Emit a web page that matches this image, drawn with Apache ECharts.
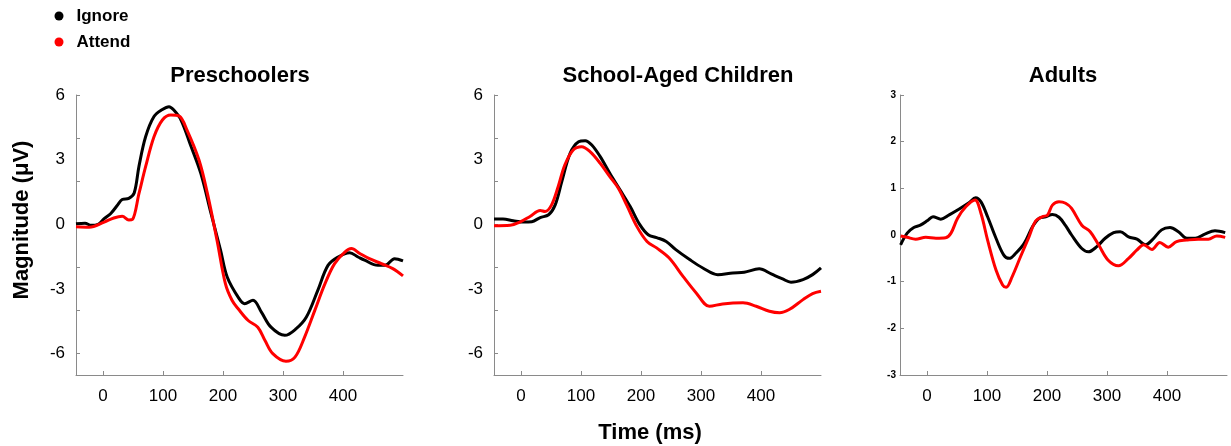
<!DOCTYPE html>
<html>
<head>
<meta charset="utf-8">
<script src="https://cdn.jsdelivr.net/npm/echarts@6/dist/echarts.min.js"></script>
<style>html,body{margin:0;padding:0;background:#fff}#c{width:1231px;height:446px}</style>
</head>
<body>
<div id="c"></div>
<script>
// ---- data ----
const panelTitles = ['Preschoolers', 'School-Aged Children', 'Adults'];
const seriesNames = ['Ignore', 'Attend'];
const xTickValues = [0, 100, 200, 300, 400];
const yTickLabelsChild = [-6, -3, 0, 3, 6];
const yTickMarksChild = [-6, -4, -2, 0, 2, 4, 6];
const yTicksAdult = [-3, -2, -1, 0, 1, 2, 3];

const preIgnoreT = [-45,-30,-20,-8,2,13,24,32,43,52,60,71,85,99,110,118,130,146,163,180,196,207,226,236,250,264,280,303,322,339,358,375,392,411,425,436,458,470,486,500];
const preIgnoreV = [0.02,0.05,-0.05,0.0,0.26,0.5,0.88,1.15,1.2,1.45,2.7,4.06,5.0,5.33,5.46,5.3,4.84,3.67,2.36,0.5,-1.21,-2.45,-3.42,-3.69,-3.53,-4.08,-4.78,-5.16,-4.85,-4.31,-3.07,-1.91,-1.52,-1.32,-1.52,-1.67,-1.91,-1.91,-1.6,-1.7];
const preAttendT = [-45,-23,2,18,32,43,49,60,71,85,99,113,127,140,160,174,190,204,215,226,242,258,270,283,305,320,336,353,370,386,403,414,428,444,464,483,500];
const preAttendV = [-0.12,-0.14,0.1,0.29,0.37,0.2,0.22,1.43,2.67,4.06,4.84,5.07,5.02,4.37,2.98,1.43,-0.74,-2.76,-3.53,-3.95,-4.47,-4.78,-5.4,-6.01,-6.36,-6.17,-5.24,-4.0,-2.76,-1.83,-1.29,-1.13,-1.36,-1.6,-1.83,-2.06,-2.4];

const schIgnoreT = [-45,-30,-13,4,18,32,46,57,68,82,96,107,118,132,148,165,182,198,212,226,242,258,281,303,328,353,372,397,417,436,450,470,486,500];
const schIgnoreV = [0.24,0.24,0.16,0.1,0.12,0.31,0.44,0.9,1.98,3.3,3.83,3.88,3.68,3.14,2.37,1.6,0.82,-0.02,-0.49,-0.62,-0.8,-1.18,-1.64,-2.03,-2.34,-2.26,-2.23,-2.07,-2.31,-2.54,-2.69,-2.57,-2.34,-2.03];
const schAttendT = [-45,-18,-2,15,32,40,51,62,73,87,101,115,132,148,162,176,193,210,226,247,270,292,314,336,370,392,414,431,447,470,486,500];
const schAttendV = [-0.07,-0.05,0.1,0.36,0.64,0.59,0.9,1.75,2.75,3.45,3.6,3.37,2.83,2.21,1.68,0.9,-0.1,-0.8,-1.1,-1.57,-2.42,-3.19,-3.81,-3.7,-3.65,-3.81,-4.04,-4.11,-3.96,-3.5,-3.22,-3.11];

const adIgnoreT = [-44,-33,-22,-11,1,10,23,37,53,70,81,90,101,115,128,137,148,162,176,187,198,209,220,231,241,258,269,283,297,311,322,336,350,364,375,391,405,419,433,447,463,480,497];
const adIgnoreV = [-0.21,0.04,0.16,0.21,0.31,0.39,0.34,0.43,0.55,0.69,0.8,0.71,0.39,-0.07,-0.43,-0.5,-0.39,-0.18,0.18,0.36,0.39,0.44,0.38,0.2,0.0,-0.29,-0.36,-0.25,-0.07,0.05,0.07,-0.04,-0.09,-0.21,-0.11,0.11,0.16,0.07,-0.07,-0.07,0.02,0.09,0.05];
const adAttendT = [-44,-33,-19,-2,15,31,40,51,65,80,90,101,115,126,132,142,156,170,181,192,201,209,220,231,241,258,272,286,302,319,336,350,361,375,388,402,416,433,452,469,483,497];
const adAttendV = [-0.02,-0.05,-0.09,-0.05,-0.07,-0.06,0.04,0.36,0.61,0.75,0.46,-0.11,-0.75,-1.07,-1.12,-0.89,-0.46,-0.04,0.3,0.39,0.43,0.64,0.71,0.68,0.57,0.21,0.07,-0.21,-0.54,-0.66,-0.5,-0.32,-0.21,-0.31,-0.16,-0.26,-0.14,-0.11,-0.09,-0.09,-0.02,-0.05];

// ---- build ----
const FONT = 'Liberation Sans, Arial, Helvetica, sans-serif';
const zip = (t, v) => t.map((x, i) => [x, v[i]]);
const panels = [
  [zip(preIgnoreT, preIgnoreV), zip(preAttendT, preAttendV)],
  [zip(schIgnoreT, schIgnoreV), zip(schAttendT, schAttendV)],
  [zip(adIgnoreT, adIgnoreV), zip(adAttendT, adAttendV)]
];
const colors = ['#000000', '#ff0000'];
const gridLefts = [76, 494, 900];
const titleCenters = [240, 678, 1063];
const axisLineStyle = { color: '#8a8a8a', width: 1 };

const grids = gridLefts.map(l => ({ left: l, top: 95, width: 327, height: 280 }));
const xAxes = gridLefts.map((l, i) => ({
  type: 'value', gridIndex: i, min: -45, max: 500,
  splitLine: { show: false },
  axisLine: { show: true, onZero: false, lineStyle: axisLineStyle },
  axisTick: { show: true, inside: true, length: 4, lineStyle: axisLineStyle, customValues: xTickValues },
  axisLabel: { customValues: xTickValues, margin: 13, color: '#000', fontSize: 17, fontFamily: FONT }
}));
const yAxes = gridLefts.map((l, i) => {
  const adult = i === 2;
  return {
    type: 'value', gridIndex: i,
    min: adult ? -3 : -7, max: adult ? 3 : 6,
    splitLine: { show: false },
    axisLine: { show: true, onZero: false, lineStyle: axisLineStyle },
    axisTick: { show: true, inside: true, length: 4, lineStyle: axisLineStyle, customValues: adult ? yTicksAdult : yTickMarksChild },
    axisLabel: adult
      ? { customValues: yTicksAdult, margin: 4, color: '#000', fontSize: 10, fontWeight: 'bold', fontFamily: FONT }
      : { customValues: yTickLabelsChild, margin: 11, color: '#000', fontSize: 17, fontFamily: FONT }
  };
});
const series = [];
panels.forEach((p, i) => {
  p.forEach((d, k) => {
    series.push({
      type: 'line', name: seriesNames[k], xAxisIndex: i, yAxisIndex: i,
      data: d, smooth: 0.35, showSymbol: false, symbol: 'circle',
      lineStyle: { color: colors[k], width: 3 }, itemStyle: { color: colors[k] },
      z: 2 + k, animation: false
    });
  });
});

const chart = echarts.init(document.getElementById('c'), null, { renderer: 'canvas' });
chart.setOption({
  backgroundColor: '#fff',
  animation: false,
  title: panelTitles.map((t, i) => ({
    text: t, left: titleCenters[i], top: 65, padding: 0, textAlign: 'center',
    textStyle: { fontSize: 22, fontWeight: 'bold', color: '#000', fontFamily: FONT }
  })),
  legend: {
    data: seriesNames, orient: 'vertical', left: 54.5, top: 7.5, padding: 0,
    itemGap: 9, itemWidth: 25, itemHeight: 9, icon: 'circle',
    textStyle: { fontSize: 17, fontWeight: 'bold', color: '#000', fontFamily: FONT }
  },
  grid: grids, xAxis: xAxes, yAxis: yAxes, series,
  graphic: [
    { type: 'text', x: 22, y: 220, rotation: Math.PI / 2,
      style: { text: 'Magnitude (μV)', fill: '#000', font: 'bold 22px ' + FONT, align: 'center', verticalAlign: 'middle' } },
    { type: 'text', x: 650, y: 433,
      style: { text: 'Time (ms)', fill: '#000', font: 'bold 22px ' + FONT, align: 'center', verticalAlign: 'middle' } }
  ]
});
</script>
</body>
</html>
